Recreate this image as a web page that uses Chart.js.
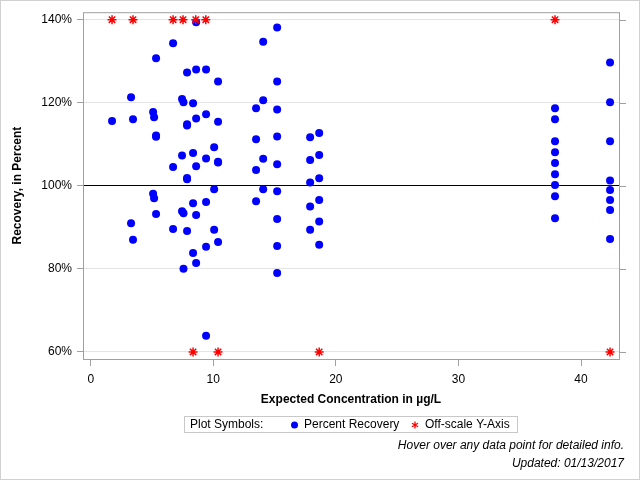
<!DOCTYPE html>
<html>
<head>
<meta charset="utf-8">
<script src="https://cdn.jsdelivr.net/npm/chart.js@4"></script>
<style>
  body { margin: 0; background: #fff; }
</style>
</head>
<body>
<canvas id="recoveryChart" width="640" height="480"></canvas>
<script>
// axis ticks
const xTicks = [0, 10, 20, 30, 40];
const yTicks = [60, 80, 100, 120, 140];

// percent recovery points (expected concentration, recovery %)
const recoveryConc = [
  1.74,
  3.29, 3.29, 3.45, 3.45,
  5.09, 5.09, 5.17, 5.17,
  5.33, 5.33, 5.33, 5.33,
  6.72, 6.72, 6.72,
  7.45, 7.45, 7.45,
  7.57, 7.57, 7.57,
  7.86, 7.86, 7.86, 7.86, 7.86, 7.86,
  8.35, 8.35, 8.35, 8.35,
  8.6, 8.6, 8.6, 8.6, 8.6, 8.6,
  9.41, 9.41, 9.41, 9.41, 9.41, 9.41,
  10.07, 10.07, 10.07,
  10.39, 10.39, 10.39, 10.39, 10.39,
  13.49, 13.49, 13.49, 13.49,
  14.07, 14.07, 14.07, 14.07,
  15.21, 15.21, 15.21, 15.21, 15.21, 15.21, 15.21, 15.21, 15.21,
  17.9, 17.9, 17.9, 17.9, 17.9,
  18.64, 18.64, 18.64, 18.64, 18.64, 18.64,
  37.88, 37.88, 37.88, 37.88, 37.88, 37.88, 37.88, 37.88, 37.88,
  42.37, 42.37, 42.37, 42.37, 42.37, 42.37, 42.37, 42.37
];
const recoveryPct = [
  115.6,
  121.3, 91.0, 116.0, 87.0,
  117.8, 98.1, 116.5, 97.0,
  130.7, 112.1, 111.8, 93.2,
  134.3, 104.5, 89.6,
  120.9, 107.3, 93.9,
  120.1, 93.4, 80.0,
  127.3, 114.8, 114.5, 101.9, 101.6, 89.1,
  119.9, 107.9, 95.8, 83.8,
  139.4, 128.0, 116.2, 104.7, 93.0, 81.4,
  128.0, 117.2, 106.6, 96.1, 85.3, 63.9,
  109.3, 99.2, 89.4,
  125.1, 115.4, 105.8, 105.6, 86.5,
  118.7, 111.2, 103.8, 96.3,
  134.7, 120.6, 106.5, 99.2,
  138.1, 125.1, 118.4, 111.9, 105.2, 98.7, 92.0, 85.5, 79.0,
  111.7, 106.2, 100.8, 95.0, 89.4,
  112.7, 107.4, 101.8, 96.6, 91.4, 85.8,
  118.7, 116.0, 110.7, 108.1, 105.5, 102.8, 100.2, 97.5, 92.2,
  129.7, 120.1, 110.7, 101.3, 99.0, 96.6, 94.2, 87.2
];

// off-scale points, pinned to the top (140%) or bottom (60%) of the axis
const offHighConc = [1.74, 3.45, 6.72, 7.53, 8.57, 9.39, 37.88];
const offLowConc = [8.35, 10.39, 18.64, 42.37];

const FONT = '"Liberation Sans", Arial, sans-serif';

const recoveryPoints = recoveryConc.map((c, i) => ({ x: c, y: recoveryPct[i] }));
const offScalePoints = offHighConc.map(c => ({ x: c, y: yTicks[yTicks.length - 1] }))
  .concat(offLowConc.map(c => ({ x: c, y: yTicks[0] })));

// frame, legend box, titles and footer notes
const decorations = {
  id: 'decorations',
  beforeDraw(chart) {
    const ctx = chart.ctx;
    ctx.save();
    ctx.fillStyle = '#fff';
    ctx.fillRect(0, 0, chart.width, chart.height);
    ctx.restore();
  },
  afterDraw(chart) {
    const ctx = chart.ctx;
    const a = chart.chartArea;
    const yScale = chart.scales.y;
    ctx.save();

    // plot frame
    ctx.strokeStyle = '#a0a0a0';
    ctx.lineWidth = 1;
    ctx.strokeRect(a.left + 0.5, a.top + 0.5, a.right - a.left, a.bottom - a.top);

    // mirrored tick marks on the right side
    ctx.beginPath();
    yTicks.forEach(v => {
      const py = Math.round(yScale.getPixelForValue(v)) + 0.5;
      ctx.moveTo(a.right + 1, py);
      ctx.lineTo(a.right + 7, py);
    });
    ctx.stroke();

    // outer border
    ctx.strokeStyle = '#d0d0d0';
    ctx.strokeRect(0.5, 0.5, chart.width - 1, chart.height - 1);

    // axis titles
    ctx.fillStyle = '#000';
    ctx.font = 'bold 12px ' + FONT;
    ctx.textAlign = 'center';
    ctx.textBaseline = 'middle';
    ctx.fillText('Expected Concentration in µg/L', (a.left + a.right) / 2, 400);
    ctx.save();
    ctx.translate(18, (a.top + a.bottom) / 2);
    ctx.rotate(-Math.PI / 2);
    ctx.fillText('Recovery, in Percent', 0, 0);
    ctx.restore();

    // legend
    ctx.strokeStyle = '#c8c8c8';
    ctx.strokeRect(184.5, 416.5, 333, 16);
    ctx.font = '12px ' + FONT;
    ctx.textAlign = 'left';
    ctx.fillText('Plot Symbols:', 190, 424.5);
    ctx.fillStyle = '#0000ff';
    ctx.beginPath();
    ctx.arc(294.5, 425, 3.5, 0, Math.PI * 2);
    ctx.fill();
    ctx.fillStyle = '#000';
    ctx.fillText('Percent Recovery', 304, 424.5);
    ctx.strokeStyle = '#ff0000';
    ctx.lineWidth = 1.3;
    ctx.beginPath();
    const sx = 415, sy = 425, r = 3.5;
    ctx.moveTo(sx, sy - r); ctx.lineTo(sx, sy + r);
    ctx.moveTo(sx - r * 0.87, sy - r * 0.5); ctx.lineTo(sx + r * 0.87, sy + r * 0.5);
    ctx.moveTo(sx - r * 0.87, sy + r * 0.5); ctx.lineTo(sx + r * 0.87, sy - r * 0.5);
    ctx.stroke();
    ctx.fillText('Off-scale Y-Axis', 425, 424.5);

    // footer notes
    ctx.font = 'italic 12px ' + FONT;
    ctx.textAlign = 'right';
    ctx.fillText('Hover over any data point for detailed info.', 624, 446);
    ctx.fillText('Updated: 01/13/2017', 624, 464);

    ctx.restore();
  }
};

const ctx = document.getElementById('recoveryChart').getContext('2d');
const recoveryChart = new Chart(ctx, {
  type: 'scatter',
  data: {
    datasets: [{
      label: 'Off-scale Y-Axis',
      data: offScalePoints,
      pointStyle: 'star',
      pointRadius: 4.5,
      borderColor: '#ff0000',
      backgroundColor: '#ff0000',
      borderWidth: 1.5,
      order: 0
    }, {
      label: 'Percent Recovery',
      data: recoveryPoints,
      pointStyle: 'circle',
      pointRadius: 4,
      borderWidth: 0,
      backgroundColor: '#0000ff',
      borderColor: '#0000ff',
      order: 1
    }]
  },
  options: {
    responsive: false,
    animation: false,
    layout: {
      padding: { top: 12, right: 21, left: 0, bottom: 0 }
    },
    scales: {
      x: {
        type: 'linear',
        min: -0.63,
        max: 43.1,
        afterBuildTicks: s => { s.ticks = xTicks.map(v => ({ value: v })); },
        afterFit: s => { s.height = 121; },
        ticks: {
          color: '#000',
          font: { family: FONT, size: 12 },
          padding: 6,
          maxRotation: 0
        },
        grid: {
          drawOnChartArea: false,
          tickLength: 7,
          tickColor: '#a0a0a0'
        },
        border: { display: false }
      },
      y: {
        min: 58.3,
        max: 141.8,
        afterBuildTicks: s => { s.ticks = yTicks.map(v => ({ value: v })); },
        afterFit: s => { s.width = 83; },
        ticks: {
          color: '#000',
          font: { family: FONT, size: 12 },
          padding: 5,
          callback: v => v + '%'
        },
        grid: {
          color: c => (c.tick && c.tick.value === 100) ? '#000000' : '#e4e4e4',
          tickLength: 6,
          tickColor: '#a0a0a0'
        },
        border: { display: false }
      }
    },
    plugins: {
      legend: { display: false },
      tooltip: { enabled: false }
    }
  },
  plugins: [decorations]
});
</script>
</body>
</html>
